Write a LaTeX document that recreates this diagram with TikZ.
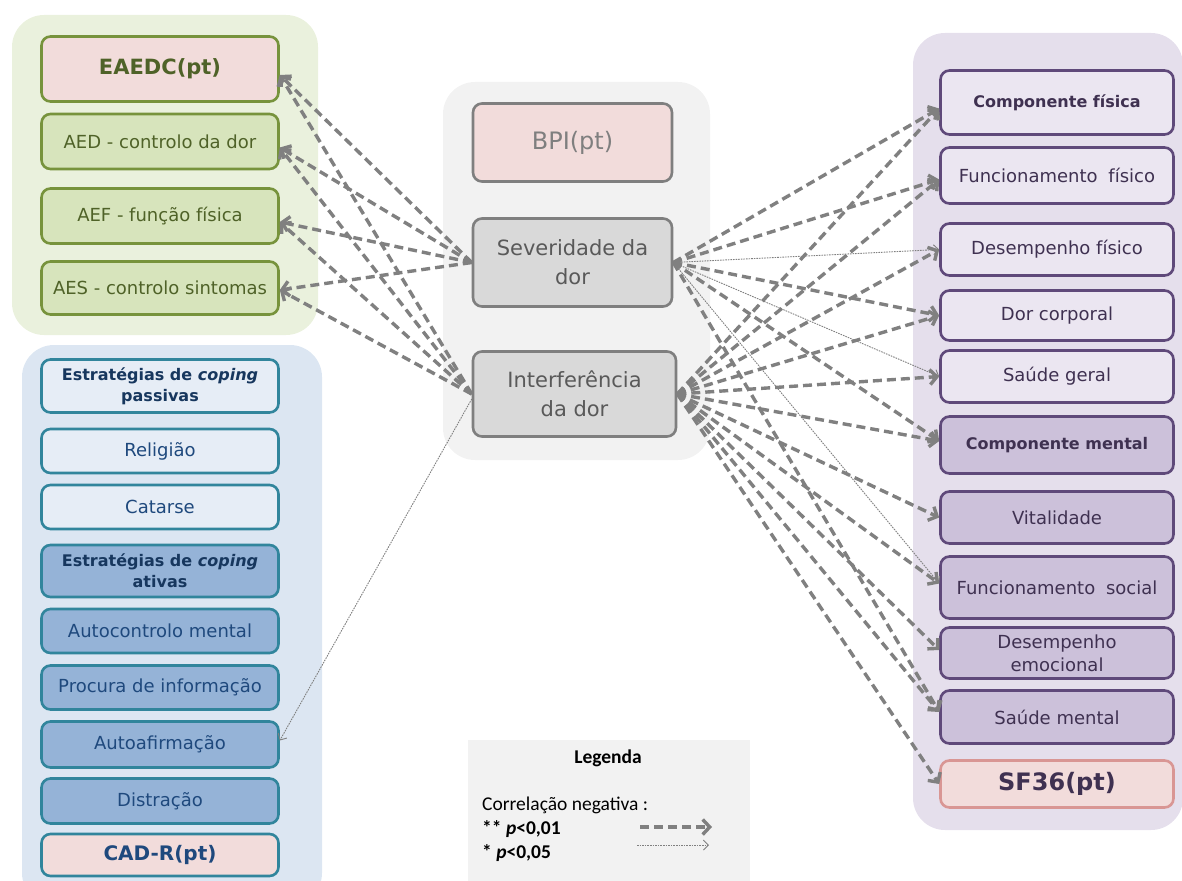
\documentclass[tikz,border=0pt]{standalone}
\usepackage{fontspec}
\setmainfont{DejaVu Sans}
\newfontfamily\legendfont{Carlito}
\usetikzlibrary{arrows.meta}

% palette
\definecolor{grnbg}{HTML}{EAF1DD}
\definecolor{grnbox}{HTML}{D7E4BC}
\definecolor{grnline}{HTML}{77933C}
\definecolor{grntext}{HTML}{4F6228}
\definecolor{pinkfill}{HTML}{F2DCDB}
\definecolor{blubg}{HTML}{DCE6F2}
\definecolor{blulight}{HTML}{E6EDF6}
\definecolor{blumid}{HTML}{95B3D7}
\definecolor{bluline}{HTML}{31859C}
\definecolor{blutext}{HTML}{1F497D}
\definecolor{blutitle}{HTML}{17375E}
\definecolor{grybg}{HTML}{F2F2F2}
\definecolor{grybox}{HTML}{D9D9D9}
\definecolor{gryline}{HTML}{7F7F7F}
\definecolor{grytext}{HTML}{595959}
\definecolor{purbg}{HTML}{E5DFEC}
\definecolor{purlight}{HTML}{EBE6F1}
\definecolor{purmid}{HTML}{CCC1DA}
\definecolor{purline}{HTML}{5F497A}
\definecolor{purtext}{HTML}{3F3151}
\definecolor{sfline}{HTML}{D99694}
\definecolor{arrowgray}{HTML}{808080}

\tikzset{
  groupbg/.style={rounded corners=32pt, draw=none},
  box/.style={draw, line width=2.6pt, rounded corners=9pt, align=center,
    inner sep=0pt, font=\fontsize{18}{22}\selectfont},
  gbox/.style={box, draw=grnline, fill=grnbox, text=grntext, minimum width=237pt},
  bbox/.style={box, draw=bluline, fill=blulight, text=blutext, minimum width=237pt},
  abox/.style={bbox, fill=blumid},
  cbox/.style={box, draw=gryline, fill=grybox, text=grytext, minimum width=199pt,
    font=\fontsize{21}{29}\selectfont},
  pbox/.style={box, draw=purline, fill=purlight, text=purtext, minimum width=233pt},
  mbox/.style={pbox, fill=purmid},
  titlefont/.style={font=\bfseries\fontsize{16}{21}\selectfont},
  legtext/.style={anchor=west, inner sep=0pt, font=\legendfont\fontsize{19.5}{22}\selectfont},
  strong/.style={draw=arrowgray, line width=3.4pt, dash pattern=on 9pt off 5pt,
    -{Straight Barb[length=7pt,width=15pt]}},
  weak/.style={draw=arrowgray, line width=0.9pt, dash pattern=on 1.6pt off 1pt,
    -{Straight Barb[length=5pt,width=10pt]}},
}

\begin{document}
\begin{tikzpicture}[x=1pt,y=-1pt]
\path[clip] (0,0) rectangle (1182,880);

% group backgrounds
\fill[groupbg, fill=grnbg] (12,15) rectangle (318,335);
\fill[groupbg, fill=blubg] (22,345) rectangle (322,905);
\fill[groupbg, fill=grybg] (443,82) rectangle (710,460);
\fill[groupbg, fill=purbg] (913,33) rectangle (1183,830);

% EAEDC(pt)
\node[gbox, fill=pinkfill, minimum height=65pt, font=\bfseries\fontsize{21}{25}\selectfont] (eaedc) at (160,69) {EAEDC(pt)};
\node[gbox, minimum height=55pt] (aed) at (160,141.5) {AED - controlo da dor};
\node[gbox, minimum height=55pt] (aef) at (160,216) {AEF - função física};
\node[gbox, minimum height=53pt] (aes) at (160,288) {AES - controlo sintomas};

% CAD-R(pt)
\node[bbox, minimum height=53pt, text=blutitle, titlefont] (passivas) at (160,386) {Estratégias de \textit{coping}\\passivas};
\node[bbox, minimum height=44pt] (religiao) at (160,451) {Religião};
\node[bbox, minimum height=44pt] (catarse) at (160,507) {Catarse};
\node[abox, minimum height=52pt, text=blutitle, titlefont] (ativas) at (160,571) {Estratégias de \textit{coping}\\ativas};
\node[abox, minimum height=44pt] (autocontrolo) at (160,631) {Autocontrolo mental};
\node[abox, minimum height=44pt] (procura) at (160,687.5) {Procura de informação};
\node[abox, minimum height=46pt] (autoafirmacao) at (160,744.5) {Autoafirmação};
\node[abox, minimum height=45pt] (distracao) at (160,801) {Distração};
\node[bbox, fill=pinkfill, minimum height=42pt, font=\bfseries\fontsize{20}{24}\selectfont] (cadr) at (160,855) {CAD-R(pt)};

% BPI(pt)
\node[cbox, fill=pinkfill, text=gryline, minimum height=78pt, font=\fontsize{24}{28}\selectfont] (bpi) at (572.5,142.5) {BPI(pt)};
\node[cbox, minimum height=88pt] (sev) at (572.5,262.5) {Severidade da\\dor};
\node[cbox, minimum height=85pt, minimum width=203pt] (int) at (574.5,394) {Interferência\\da dor};

% SF36(pt)
\node[pbox, minimum height=64pt, titlefont] (compfis) at (1057,102.5) {Componente física};
\node[pbox, minimum height=56pt] (funcfis) at (1057,175.5) {Funcionamento\hspace{0.6em}físico};
\node[pbox, minimum height=52pt] (desfis) at (1057,249.5) {Desempenho físico};
\node[pbox, minimum height=50pt] (dorcorp) at (1057,315.5) {Dor corporal};
\node[pbox, minimum height=52pt] (saudeger) at (1057,376.5) {Saúde geral};
\node[mbox, minimum height=57pt, titlefont] (compment) at (1057,445) {Componente mental};
\node[mbox, minimum height=52pt] (vital) at (1057,517.5) {Vitalidade};
\node[mbox, minimum height=62pt] (funcsoc) at (1057,587.5) {Funcionamento\hspace{0.6em}social};
\node[mbox, minimum height=51pt, font=\fontsize{18}{23}\selectfont] (desemo) at (1057,653) {Desempenho\\emocional};
\node[mbox, minimum height=53pt] (saudement) at (1057,717) {Saúde mental};
\node[pbox, draw=sfline, fill=pinkfill, minimum height=47pt, font=\bfseries\fontsize{24}{28}\selectfont] (sf36) at (1057,784) {SF36(pt)};

% legend
\node[fill=grybg, minimum width=282pt, minimum height=150pt, anchor=north west, inner sep=0pt] (legend) at (468,740) {};
\node[font=\legendfont\bfseries\fontsize{19.5}{22}\selectfont] (legtitle) at (608,758) {Legenda};
\node[legtext] (legcorr) at (482,805) {Correlação negativa :};
\node[legtext, font=\legendfont\bfseries\fontsize{19.5}{22}\selectfont] (legp1) at (482,829) {** \textit{p}<0,01};
\node[legtext, font=\legendfont\bfseries\fontsize{19.5}{22}\selectfont] (legp2) at (482,853) {* \textit{p}<0,05};
\coordinate (lsa) at (640,827);
\coordinate (lsb) at (712,827);
\coordinate (lwa) at (637,845);
\coordinate (lwb) at (709,845);
\draw[strong] (lsa) -- (lsb);
\draw[weak] (lwa) -- (lwb);

% pain severity / interference -> EAEDC(pt)
\draw[strong] (sev.west) -- ([yshift=-6pt]eaedc.east);
\draw[strong] (sev.west) -- ([yshift=-6pt]aed.east);
\draw[strong] (sev.west) -- ([yshift=-6pt]aef.east);
\draw[strong] (sev.west) -- ([yshift=-2pt]aes.east);
\draw[strong] (int.west) -- ([yshift=-6pt]eaedc.east);
\draw[strong] (int.west) -- ([yshift=-6pt]aed.east);
\draw[strong] (int.west) -- ([yshift=-6pt]aef.east);
\draw[strong] (int.west) -- ([yshift=-2pt]aes.east);

% pain interference -> CAD-R(pt)
\draw[weak] ([yshift=-5pt]int.west) -- ([yshift=4pt]autoafirmacao.east);

% pain severity -> SF36(pt)
\draw[strong] (sev.east) -- ([yshift=-6pt]compfis.west);
\draw[strong] (sev.east) -- ([yshift=-4pt]funcfis.west);
\draw[weak]   (sev.east) -- (desfis.west);
\draw[strong] (sev.east) -- (dorcorp.west);
\draw[weak]   (sev.east) -- (saudeger.west);
\draw[strong] (sev.east) -- ([yshift=4pt]compment.west);
\draw[weak]   (sev.east) -- ([yshift=4pt]funcsoc.west);
\draw[strong] (sev.east) -- ([yshift=5pt]saudement.west);

% pain interference -> SF36(pt)
\draw[strong] (int.east) -- ([yshift=-6pt]compfis.west);
\draw[strong] (int.east) -- ([yshift=-4pt]funcfis.west);
\draw[strong] (int.east) -- (desfis.west);
\draw[strong] (int.east) -- (dorcorp.west);
\draw[strong] (int.east) -- (saudeger.west);
\draw[strong] (int.east) -- ([yshift=4pt]compment.west);
\draw[strong] (int.east) -- (vital.west);
\draw[strong] (int.east) -- ([yshift=4pt]funcsoc.west);
\draw[strong] (int.east) -- ([yshift=3pt]desemo.west);
\draw[strong] (int.east) -- ([yshift=5pt]saudement.west);
\draw[strong] (int.east) -- (sf36.west);
\end{tikzpicture}
\end{document}
